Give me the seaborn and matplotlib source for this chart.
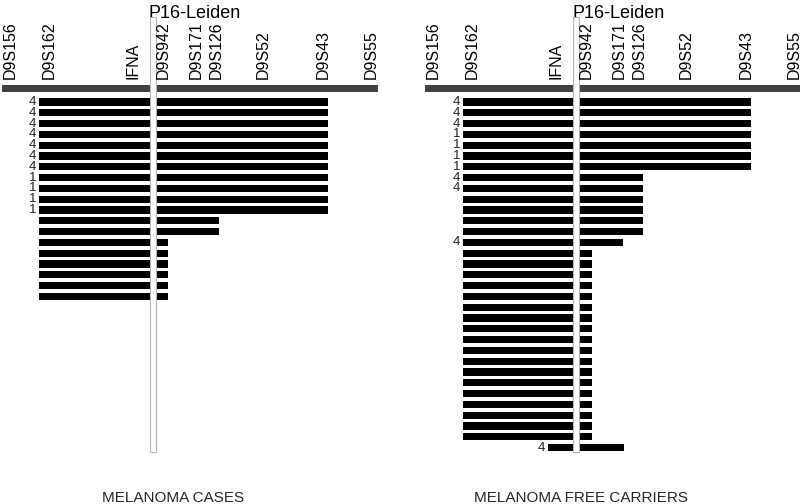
import numpy as np
import matplotlib
matplotlib.use("Agg")
import matplotlib.pyplot as plt
from matplotlib.patches import Rectangle
import seaborn as sns

# =========================================
# MARKERS (position along chromosome map)
# =========================================

markers = ["D9S156", "D9S162", "IFNA", "D9S942", "D9S171",
           "D9S126", "D9S52", "D9S43", "D9S55"]
marker_pos = [6, 45, 129, 159, 192, 212, 259, 319, 367]

p16_pos = (148, 154)
chrom_len = 376

# =========================================
# MELANOMA CASES (one row per haplotype)
# =========================================

cases_start = [37, 37, 37, 37, 37, 37, 37, 37, 37, 37,
               37, 37, 37, 37, 37, 37, 37, 37, 37]
cases_end = [326, 326, 326, 326, 326, 326, 326, 326, 326, 326,
             326, 217, 217, 166, 166, 166, 166, 166, 166]
cases_mark = ["4", "4", "4", "4", "4", "4", "4", "1", "1", "1",
              "1", "", "", "", "", "", "", "", ""]

# =========================================
# MELANOMA FREE CARRIERS
# =========================================

carriers_start = [38, 38, 38, 38, 38, 38, 38, 38, 38, 38,
                  38, 38, 38, 38, 38, 38, 38, 38, 38, 38,
                  38, 38, 38, 38, 38, 38, 38, 38, 38, 38,
                  38, 38, 123]
carriers_end = [326, 326, 326, 326, 326, 326, 326, 218, 218, 218,
                218, 218, 218, 198, 167, 167, 167, 167, 167, 167,
                167, 167, 167, 167, 167, 167, 167, 167, 167, 167,
                167, 167, 199]
carriers_mark = ["4", "4", "4", "1", "1", "1", "1", "4", "4", "",
                 "", "", "", "4", "", "", "", "", "", "",
                 "", "", "", "", "", "", "", "", "", "",
                 "", "", "4"]

panel_titles = ["MELANOMA CASES", "MELANOMA FREE CARRIERS"]

# =========================================
# ESTILO
# =========================================

sns.set_theme(style="white")
plt.rcParams["font.family"] = ["Liberation Sans", "DejaVu Sans"]

W, H = 800, 504
fig = plt.figure(figsize=(8, 5.04), dpi=100)

row0_px = 102.0
row_px = 10.8


def px_to_row(py):
    return (py - row0_px) / row_px


def draw_panel(left_px, starts, ends, marks, box_bottom_px):
    ax = fig.add_axes([left_px / W, 0, chrom_len / W, 1])

    rows = np.arange(len(starts))
    widths = np.array(ends) - np.array(starts)

    sns.barplot(
        x=widths,
        y=rows,
        orient="h",
        color="black",
        width=0.68,
        left=np.array(starts),
        errorbar=None,
        saturation=1,
        linewidth=0,
        ax=ax
    )

    # labels of the rows
    for r, (s, m) in enumerate(zip(starts, marks)):
        if m:
            ax.text(s - 3, r, m, ha="right", va="center",
                    fontsize=9.5, color="#222222")

    # chromosome bar
    y0 = px_to_row(85)
    y1 = px_to_row(92)
    ax.add_patch(Rectangle((0, y0), chrom_len, y1 - y0,
                           facecolor="#424242", edgecolor="none", zorder=3))

    # marker names (rotated bbox includes descent -> small shift)
    for name, x in zip(markers, marker_pos):
        ax.text(x + 2, px_to_row(79), name, rotation=90, ha="center",
                va="bottom", fontsize=11.5, color="black", zorder=6)

    # P16 column
    top = px_to_row(17)
    bot = px_to_row(box_bottom_px)
    ax.add_patch(Rectangle((p16_pos[0], top), p16_pos[1] - p16_pos[0],
                           bot - top, facecolor="white",
                           edgecolor="#b5b5b5", linewidth=0.8, zorder=5))
    ax.text(p16_pos[0] - 1, px_to_row(17.5), "P16-Leiden", ha="left",
            va="baseline", fontsize=13, color="black")

    ax.set_xlim(0, chrom_len)
    ax.set_ylim(px_to_row(H), px_to_row(0))
    ax.axis("off")
    return ax


draw_panel(2, cases_start, cases_end, cases_mark, 452)
draw_panel(425, carriers_start, carriers_end, carriers_mark, 452)

fig.text(173 / W, 1 - 502 / H, panel_titles[0], ha="center",
         va="baseline", fontsize=11)
fig.text(581 / W, 1 - 502 / H, panel_titles[1], ha="center",
         va="baseline", fontsize=11)

fig.savefig("out.png", dpi=100, facecolor="white")
